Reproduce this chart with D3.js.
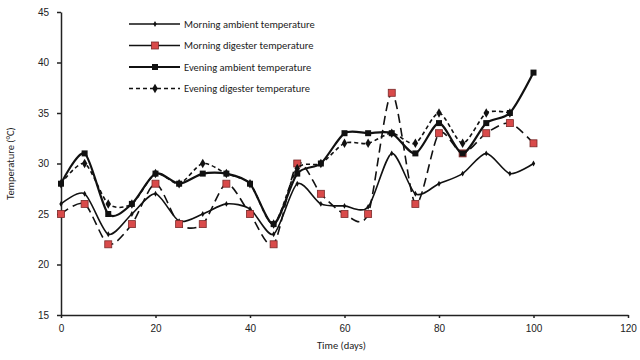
<!DOCTYPE html>
<html>
<head>
<meta charset="utf-8">
<script src="https://cdn.jsdelivr.net/npm/d3@7"></script>
<style>
  body { margin: 0; background: #fff; }
  svg { font-family: Calibri, Carlito, "Liberation Sans", Arial, sans-serif; }
  .axis text { font-size: 10px; fill: #222; }
  .axis path, .axis line { stroke: #222; stroke-width: 1.5; }
</style>
</head>
<body>
<svg width="640" height="360"></svg>
<script>
var days = [0, 5, 10, 15, 20, 25, 30, 35, 40, 45, 50, 55, 60, 65, 70, 75, 80, 85, 90, 95, 100];
var morningAmbient  = [26, 27, 23, 25, 27, 24.3, 25, 26, 25.5, 23, 28, 26, 25.8, 25.7, 31, 27, 28, 29, 31, 29, 30];
var morningDigester = [25, 26, 22, 24, 28, 24, 24, 28, 25, 22, 30, 27, 25, 25, 37, 26, 33, 31, 33, 34, 32];
var eveningAmbient  = [28, 31, 25, 26, 29, 28, 29, 29, 28, 24, 29, 30, 33, 33, 33, 31, 34, 31, 34, 35, 39];
var eveningDigester = [28, 30, 26, 26, 29, 28, 30, 29, 28, 24, 29.5, 30, 32, 32, 33, 32, 35, 32, 35, 35];
var xTicks = [0, 20, 40, 60, 80, 100, 120];
var yTicks = [15, 20, 25, 30, 35, 40, 45];

var series = [
  { name: "Morning ambient temperature", values: morningAmbient, width: 1.6, dash: null, marker: "dot" },
  { name: "Morning digester temperature", values: morningDigester, width: 1.6, dash: "9,5", marker: "red" },
  { name: "Evening ambient temperature", values: eveningAmbient, width: 2.2, dash: null, marker: "square" },
  { name: "Evening digester temperature", values: eveningDigester, width: 1.6, dash: "4,3", marker: "diamond" }
];

var svg = d3.select("svg");
var plotLeft = 61, plotRight = 628, plotTop = 12, plotBottom = 315;

var x = d3.scaleLinear().domain([0, 120]).range([plotLeft, plotRight]);
var y = d3.scaleLinear().domain([15, 45]).range([plotBottom, plotTop]);

svg.append("g")
    .attr("class", "axis")
    .attr("transform", "translate(0," + plotBottom + ")")
    .call(d3.axisBottom(x).tickValues(xTicks).tickSize(3).tickSizeOuter(0).tickPadding(7));

svg.append("g")
    .attr("class", "axis")
    .attr("transform", "translate(" + plotLeft + ",0)")
    .call(d3.axisLeft(y).tickValues(yTicks).tickSize(4).tickSizeOuter(0).tickPadding(8));

svg.append("text")
    .attr("x", (plotLeft + plotRight) / 2 - 3).attr("y", 349)
    .attr("text-anchor", "middle").attr("font-size", 10.5).attr("fill", "#222")
    .text("Time (days)");

svg.append("text")
    .attr("transform", "translate(14," + (plotTop + plotBottom) / 2 + ") rotate(-90)")
    .attr("text-anchor", "middle").attr("font-size", 10.5).attr("fill", "#222")
    .text("Temperature (°C)");

var line = d3.line()
    .x(function(d) { return x(d[0]); })
    .y(function(d) { return y(d[1]); })
    .curve(d3.curveCardinal.tension(0.2));

function drawMarker(g, type, cx, cy) {
  if (type == "dot") {
    g.append("path").attr("d", d3.symbol(d3.symbolDiamond, 10)())
        .attr("transform", "translate(" + cx + "," + cy + ")").attr("fill", "#111");
  } else if (type == "red") {
    g.append("rect").attr("x", cx - 3.5).attr("y", cy - 3.5).attr("width", 7).attr("height", 7)
        .attr("fill", "#d94a4a").attr("stroke", "#7a2a2a").attr("stroke-width", 0.8);
  } else if (type == "square") {
    g.append("rect").attr("x", cx - 3).attr("y", cy - 3).attr("width", 6).attr("height", 6)
        .attr("fill", "#111");
  } else {
    g.append("path").attr("d", d3.symbol(d3.symbolDiamond, 26)())
        .attr("transform", "translate(" + cx + "," + cy + ")").attr("fill", "#111");
  }
}

series.forEach(function(s) {
  var pts = s.values.map(function(v, i) { return [days[i], v]; });
  svg.append("path")
      .attr("d", line(pts))
      .attr("fill", "none")
      .attr("stroke", "#111")
      .attr("stroke-width", s.width)
      .attr("stroke-dasharray", s.dash);
  var g = svg.append("g");
  pts.forEach(function(p) { drawMarker(g, s.marker, x(p[0]), y(p[1])); });
});

// legend
var lg = svg.append("g");
series.forEach(function(s, i) {
  var ly = 24 + i * 21.5;
  lg.append("line")
      .attr("x1", 129).attr("x2", 180).attr("y1", ly).attr("y2", ly)
      .attr("stroke", "#111").attr("stroke-width", s.width)
      .attr("stroke-dasharray", s.dash == "4,3" ? "4,3" : null);
  drawMarker(lg, s.marker, 155, ly);
  lg.append("text")
      .attr("x", 184).attr("y", ly + 3.5)
      .attr("font-size", 10.5).attr("fill", "#222")
      .text(s.name);
});
</script>
</body>
</html>
